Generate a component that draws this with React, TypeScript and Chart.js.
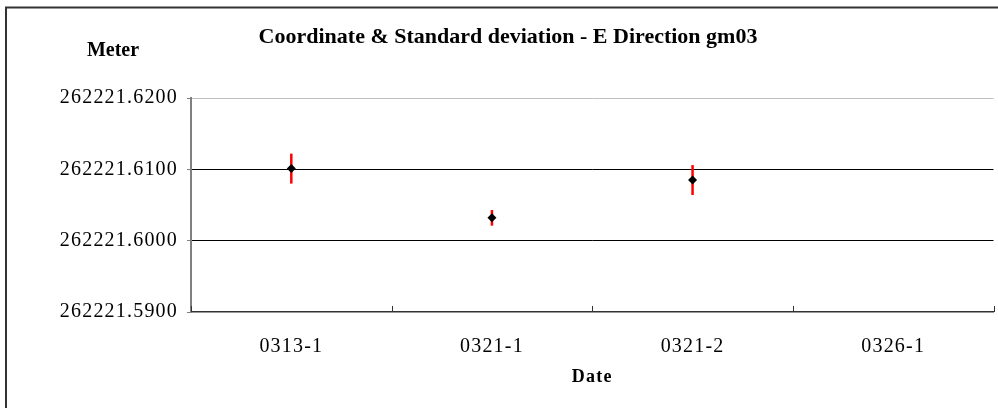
import React, { useEffect, useRef } from "react";
import { Chart, registerables } from "chart.js";

Chart.register(...registerables);

const categories = ["0313-1", "0321-1", "0321-2", "0326-1"];
const coordValues: (number | null)[] = [262221.6101, 262221.6032, 262221.6085, null];
const stdDevs: (number | null)[] = [0.0021, 0.0011, 0.0021, null];
const yTickMin = 262221.59;
const yTickMax = 262221.62;
const yTickStep = 0.01;
const chartTitle = "Coordinate & Standard deviation - E Direction gm03";
const yAxisLabel = "Meter";
const xAxisLabel = "Date";

const SERIF = "'Liberation Serif', 'Times New Roman', serif";

const decorPlugin = {
  id: "decor",
  beforeDraw(chart: any) {
    const { ctx, width, height } = chart;
    ctx.save();
    ctx.fillStyle = "#ffffff";
    ctx.fillRect(0, 0, width, height);
    ctx.strokeStyle = "#333333";
    ctx.lineWidth = 2;
    ctx.beginPath();
    ctx.moveTo(6, height + 5);
    ctx.lineTo(6, 7.5);
    ctx.lineTo(width + 5, 7.5);
    ctx.stroke();
    ctx.restore();
    ctx.letterSpacing = "1.2px";
  },
  beforeDatasetsDraw(chart: any) {
    const { ctx } = chart;
    const xs = chart.scales.x;
    const ys = chart.scales.y;
    ctx.letterSpacing = "0px";
    ctx.save();
    ctx.strokeStyle = "#ff0000";
    ctx.lineWidth = 2.5;
    coordValues.forEach((v, i) => {
      const e = stdDevs[i];
      if (v == null || e == null) return;
      const x = xs.getPixelForValue(i);
      ctx.beginPath();
      ctx.moveTo(x, ys.getPixelForValue(v + e));
      ctx.lineTo(x, ys.getPixelForValue(v - e));
      ctx.stroke();
    });
    ctx.restore();
  },
  afterDraw(chart: any) {
    const { ctx } = chart;
    const xs = chart.scales.x;
    const ys = chart.scales.y;
    ctx.letterSpacing = "0px";
    ctx.save();
    const half = (xs.getPixelForValue(1) - xs.getPixelForValue(0)) / 2;
    ctx.strokeStyle = "#333333";
    ctx.lineWidth = 1;
    const bottom = ys.getPixelForValue(yTickMin);
    for (let i = 0; i <= categories.length; i++) {
      const x = Math.round(xs.getPixelForValue(i) - half) + 0.5;
      ctx.beginPath();
      ctx.moveTo(x, bottom);
      ctx.lineTo(x, bottom - 6);
      ctx.stroke();
    }
    ctx.fillStyle = "#000000";
    ctx.textAlign = "center";
    ctx.textBaseline = "middle";
    ctx.font = `bold 22px ${SERIF}`;
    ctx.fillText(chartTitle, 508, 37);
    ctx.font = `bold 20px ${SERIF}`;
    ctx.fillText(yAxisLabel, 113, 51);
    ctx.restore();
  },
};

export default function App() {
  const ref = useRef<HTMLCanvasElement>(null);

  useEffect(() => {
    document.body.style.margin = "0";
    const canvas = ref.current;
    if (!canvas) return;
    const chart = new Chart(canvas, {
      type: "line",
      data: {
        labels: categories,
        datasets: [
          {
            label: "Coordinate",
            data: coordValues,
            showLine: false,
            pointStyle: "rectRot",
            pointRadius: 4.5,
            pointBackgroundColor: "#000000",
            pointBorderColor: "#000000",
            pointBorderWidth: 0,
          },
        ],
      },
      options: {
        animation: false,
        responsive: false,
        devicePixelRatio: 1,
        layout: { padding: { top: 98, right: 4, left: 0, bottom: 0 } },
        plugins: {
          legend: { display: false },
          tooltip: { enabled: false },
          title: { display: false },
        },
        scales: {
          x: {
            type: "category",
            offset: true,
            afterFit(scale: any) {
              scale.height = 96;
            },
            grid: { display: false, drawTicks: false },
            border: { display: true, color: "#333333", width: 1.5 },
            ticks: {
              padding: 23,
              color: "#000000",
              font: { family: SERIF, size: 20 },
              maxRotation: 0,
            },
            title: {
              display: true,
              text: xAxisLabel,
              color: "#000000",
              font: { family: SERIF, size: 18, weight: "bold" },
              padding: { top: 0, bottom: 20 },
            },
          },
          y: {
            type: "linear",
            min: yTickMin,
            max: yTickMax,
            afterFit(scale: any) {
              scale.width = 191;
            },
            ticks: {
              stepSize: yTickStep,
              padding: 9,
              color: "#000000",
              font: { family: SERIF, size: 20 },
              callback: (v: any) => Number(v).toFixed(4),
            },
            grid: {
              drawTicks: true,
              tickLength: 4,
              tickColor: "#808080",
              lineWidth: 1,
              color: (c: any) => {
                const v = c.tick ? c.tick.value : 0;
                if (Math.abs(v - yTickMax) < 1e-6) return "#c0c0c0";
                if (Math.abs(v - yTickMin) < 1e-6) return "rgba(0,0,0,0)";
                return "#000000";
              },
            },
            border: { display: true, color: "#808080", width: 2 },
          },
        },
      },
      plugins: [decorPlugin],
    } as any);
    return () => chart.destroy();
  }, []);

  return (
    <div style={{ position: "fixed", left: 0, top: 0, width: 998, height: 408 }}>
      <canvas ref={ref} width={998} height={408} style={{ width: 998, height: 408, display: "block" }} />
    </div>
  );
}
